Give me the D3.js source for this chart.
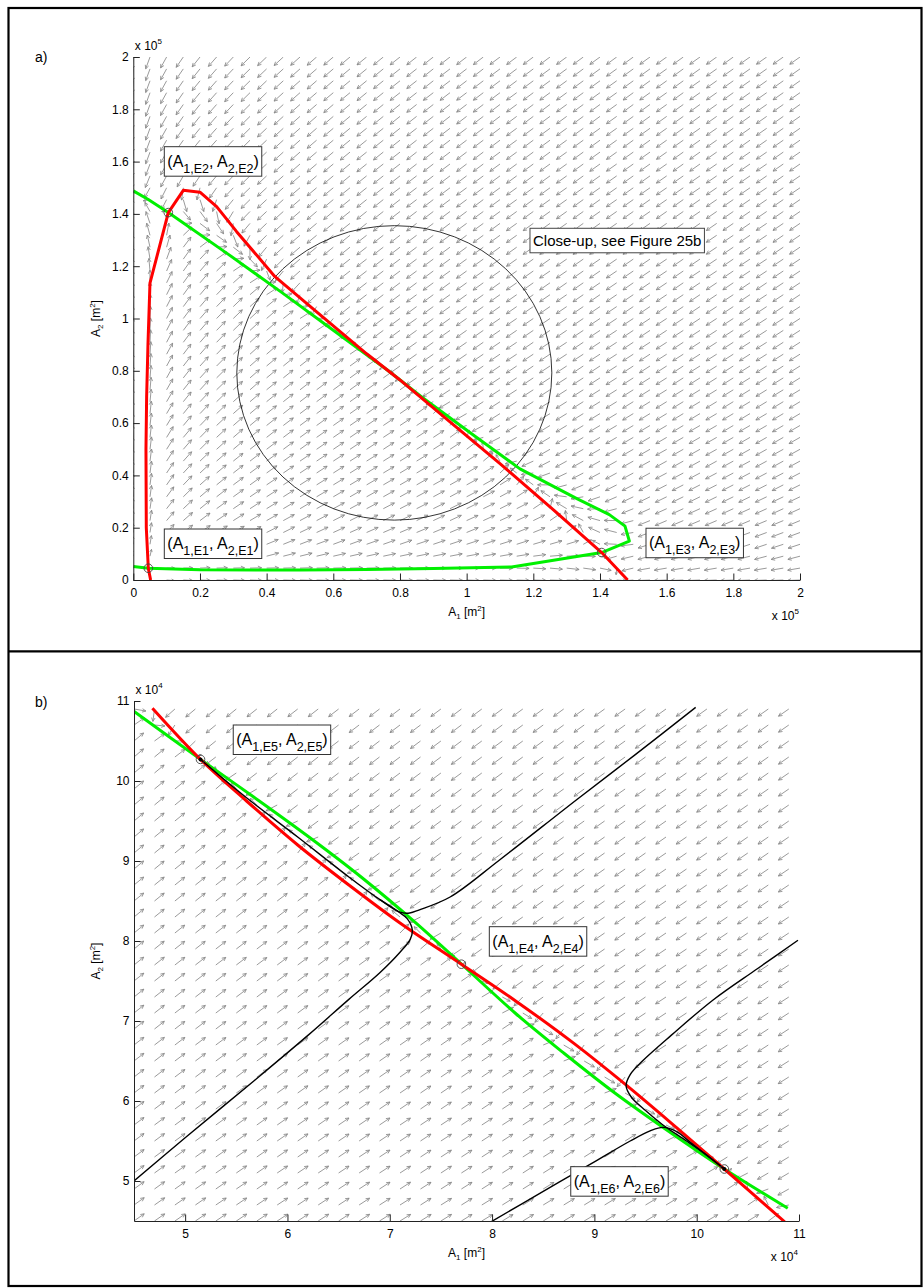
<!DOCTYPE html>
<html><head><meta charset="utf-8">
<script src="https://cdn.jsdelivr.net/npm/d3@7"></script>
<style>
body{margin:0;background:#fff}
svg{display:block}
text{font-family:"Liberation Sans",Arial,Helvetica,sans-serif;fill:#000}
</style>
</head><body>
<svg id="c" width="924" height="1288"></svg>
<script>
// ---------------- DATA ----------------
// Panel a (units: x 10^5 m^2)
const ticksA = [0,0.2,0.4,0.6,0.8,1,1.2,1.4,1.6,1.8,2];
const tickLabelsA = ["0","0.2","0.4","0.6","0.8","1","1.2","1.4","1.6","1.8","2"];
const redA = [[0.052,0],[0.045,0.045],[0.039,0.2],[0.038,0.5],[0.04,0.7],[0.044,0.9],[0.05,1.135],
  [0.105,1.405],[0.15,1.49],[0.2,1.483],[0.25,1.428],[0.31,1.332],[0.425,1.16],[0.55,1.025],
  [0.7,0.865],[0.8,0.765],[0.95,0.605],[1.1,0.445],[1.25,0.28],[1.405,0.105],[1.483,0]];
const greenA = [[0,1.488],[0.045,1.455],[0.105,1.405],[0.28,1.25],[0.445,1.1],[0.605,0.95],
  [0.765,0.8],[0.865,0.7],[1.025,0.55],[1.16,0.425],[1.332,0.31],[1.428,0.25],[1.475,0.206],
  [1.488,0.149],[1.405,0.105],[1.135,0.05],[0.9,0.044],[0.7,0.04],[0.5,0.038],[0.2,0.039],
  [0.045,0.045],[0,0.052]];
const eqA = [[0.045,0.045],[0.105,1.405],[1.405,0.105]];
const zoomCircleA = [0.783,0.792,0.4725,0.563]; // centre x, centre y, radius x, radius y
const labelsA = [
  {pos:[0.093,1.657], sub1:"1,E2", sub2:"2,E2"},
  {pos:[0.093,0.195], sub1:"1,E1", sub2:"2,E1"},
  {pos:[1.538,0.198], sub1:"1,E3", sub2:"2,E3"}
];
const noteA = {pos:[1.19,1.345], text:"Close-up, see Figure 25b"};
const gridAx = d3.range(41).map(i=>i*0.05);
const gridAy = d3.range(45).map(i=>i*2/44);

// Panel b (units: x 10^4 m^2)
const ticksB = [5,6,7,8,9,10,11];
const tickLabelsB = ["5","6","7","8","9","10","11"];
const redB = [[4.68,10.91],[5.15,10.27],[5.6,9.75],[6.1,9.2],[6.6,8.7],[7.1,8.225],[7.7,7.71],
  [8.22,7.26],[8.8,6.72],[9.3,6.21],[9.8,5.67],[10.27,5.15],[10.86,4.49]];
const greenB = [[4.49,10.88],[5.15,10.27],[5.67,9.8],[6.21,9.3],[6.72,8.8],[7.26,8.22],[7.71,7.7],
  [8.225,7.1],[8.7,6.6],[9.2,6.1],[9.75,5.6],[10.27,5.15],[10.89,4.66]];
const trajB1 = [[9.99,10.92],[9.4,10.33],[8.82,9.76],[8.07,9.01],[7.59,8.55],[7.29,8.39],[7.195,8.35],
  [7.1,8.36],[6.9,8.52],[6.6,8.8],[6.1,9.3],[5.6,9.79],[5.15,10.27]];
const trajB2 = [[4.5,5.0],[5.0,5.54],[5.68,6.26],[6.2,6.82],[6.6,7.27],[6.9,7.6],[7.1,7.86],[7.2,8.02],
  [7.22,8.14],[7.17,8.28],[7.08,8.37],[6.9,8.52]];
const trajB3 = [[10.99,8.01],[10.6,7.66],[10.157,7.26],[9.75,6.82],[9.47,6.5],[9.35,6.33],[9.31,6.19],
  [9.36,6.05],[9.5,5.88],[9.67,5.7],[9.9,5.5],[10.1,5.32],[10.27,5.15]];
const trajB4 = [[7.99,4.49],[8.5,4.87],[9.0,5.24],[9.35,5.5],[9.55,5.63],[9.67,5.67],[9.8,5.62],
  [9.95,5.47],[10.1,5.32],[10.27,5.15]];
const eqB = [[5.15,10.27],[7.7,7.71],[10.27,5.15]];
const eqBfilled = [[5.15,10.27],[10.27,5.15]];
const labelsB = [
  {pos:[5.47,10.7], sub1:"1,E5", sub2:"2,E5"},
  {pos:[7.973,8.179], sub1:"1,E4", sub2:"2,E4"},
  {pos:[8.769,5.179], sub1:"1,E6", sub2:"2,E6"}
];
const gridBx = d3.range(33).map(i=>4.5+i*0.2);
const gridBy = d3.range(33).map(i=>4.5+i*0.2);

// ---------------- HELPERS ----------------
const svg = d3.select('#c');
function distPoly(px,py,pts){
  let best=Infinity;
  for(let i=0;i<pts.length-1;i++){
    const [ax,ay]=pts[i],[bx,by]=pts[i+1];
    const vx=bx-ax,vy=by-ay,l2=vx*vx+vy*vy;
    let t=l2?((px-ax)*vx+(py-ay)*vy)/l2:0; t=Math.max(0,Math.min(1,t));
    const d=Math.hypot(px-ax-t*vx,py-ay-t*vy); if(d<best)best=d;
  }
  return best;
}
function inPoly(x,y,poly){
  let c=false;
  for(let i=0,j=poly.length-1;i<poly.length;j=i++){
    const [xi,yi]=poly[i],[xj,yj]=poly[j];
    if(((yi>y)!==(yj>y)) && (x < (xj-xi)*(y-yi)/(yj-yi)+xi)) c=!c;
  }
  return c;
}
const growth = z => (z+0.01)/(z+0.21);

function drawPanel(P){
  const x=d3.scaleLinear().domain(P.xDom).range(P.xR);
  const y=d3.scaleLinear().domain(P.yDom).range(P.yR);
  const g=svg.append('g');
  const cid='clip'+P.id;
  svg.append('clipPath').attr('id',cid).append('rect')
    .attr('x',P.xR[0]).attr('y',P.yR[1]).attr('width',P.xR[1]-P.xR[0]).attr('height',P.yR[0]-P.yR[1]);
  const plot=g.append('g').attr('clip-path',`url(#${cid})`);

  // quiver field (direction from the side of each nullcline)
  const redPx=P.red.map(d=>[x(d[0]),y(d[1])]);
  const greenPx=P.green.map(d=>[x(d[0]),y(d[1])]);
  const sx=x(1)-x(0), sy=(y(0)-y(1))*0.9;
  let dp='';
  for(const gx of P.gridX) for(const gy of P.gridY){
    const px=x(gx),py=y(gy);
    const d1=distPoly(px,py,redPx), d2=distPoly(px,py,greenPx);
    const s1=inPoly(gx,gy+1e-6,P.redPoly)?1:-1;
    const s2=inPoly(gx+1e-6,gy,P.greenPoly)?1:-1;
    const u=s1*Math.tanh(d1/P.S)*growth(gx*P.unit);
    const v=s2*Math.tanh(d2/P.S)*growth(gy*P.unit);
    let dx=u*sx, dy=-v*sy; const m=Math.hypot(dx,dy);
    if(m<1e-9) continue;
    const L=12.5*Math.min(1,0.35+0.9*Math.hypot(u,v));
    dx=dx/m*L; dy=dy/m*L;
    const ex=px+dx, ey=py+dy, a=Math.atan2(dy,dx), hl=Math.min(4,L*0.4), ha=0.45;
    dp+=`M${px.toFixed(1)},${py.toFixed(1)}L${ex.toFixed(1)},${ey.toFixed(1)}`+
        `M${(ex-hl*Math.cos(a-ha)).toFixed(1)},${(ey-hl*Math.sin(a-ha)).toFixed(1)}L${ex.toFixed(1)},${ey.toFixed(1)}`+
        `L${(ex-hl*Math.cos(a+ha)).toFixed(1)},${(ey-hl*Math.sin(a+ha)).toFixed(1)}`;
  }
  plot.append('path').attr('d',dp).attr('fill','none').attr('stroke','#888').attr('stroke-width',0.85);

  if(P.circle){
    const [cx,cy,rx,ry]=P.circle;
    plot.append('ellipse').attr('cx',x(cx)).attr('cy',y(cy))
      .attr('rx',x(cx+rx)-x(cx)).attr('ry',y(cy)-y(cy+ry))
      .attr('fill','none').attr('stroke','#000').attr('stroke-width',0.8);
  }
  const line=d3.line().x(d=>x(d[0])).y(d=>y(d[1])).curve(P.smooth?d3.curveCatmullRom.alpha(0.5):d3.curveLinear);
  plot.append('path').attr('d',line(P.green)).attr('fill','none').attr('stroke','#00f000').attr('stroke-width',3).attr('stroke-linejoin','round');
  plot.append('path').attr('d',line(P.red)).attr('fill','none').attr('stroke','#ff0000').attr('stroke-width',3).attr('stroke-linejoin','round');
  const tl=d3.line().x(d=>x(d[0])).y(d=>y(d[1])).curve(d3.curveCatmullRom.alpha(0.5));
  (P.traj||[]).forEach(t=>plot.append('path').attr('d',tl(t)).attr('fill','none').attr('stroke','#000').attr('stroke-width',1.4));
  (P.eqFilled||[]).forEach(e=>plot.append('circle').attr('cx',x(e[0])).attr('cy',y(e[1])).attr('r',2).attr('fill','#000'));
  P.eq.forEach(e=>plot.append('circle').attr('cx',x(e[0])).attr('cy',y(e[1])).attr('r',4.3)
    .attr('fill','none').attr('stroke','#444').attr('stroke-width',0.9));

  // labels
  P.labels.forEach(L=>{
    const bx=x(L.pos[0]), by=y(L.pos[1]);
    const lg=g.append('g');
    const r=lg.append('rect').attr('fill','#fff').attr('stroke','#333').attr('stroke-width',1);
    const t=lg.append('text').attr('x',bx+3).attr('y',by+20).style('font-size','16px');
    t.append('tspan').text('(A');
    t.append('tspan').attr('dy',6).style('font-size','12.5px').text(L.sub1);
    t.append('tspan').attr('dy',-6).text(', A');
    t.append('tspan').attr('dy',6).style('font-size','12.5px').text(L.sub2);
    t.append('tspan').attr('dy',-6).text(')');
    const w=t.node().getComputedTextLength();
    r.attr('x',bx).attr('y',by).attr('width',w+6).attr('height',29.5);
  });
  if(P.note){
    const bx=x(P.note.pos[0]), by=y(P.note.pos[1]);
    const r=g.append('rect').attr('fill','#fff').attr('stroke','#444').attr('stroke-width',1);
    const t=g.append('text').attr('x',bx+3).attr('y',by+17.5).style('font-size','15px').text(P.note.text);
    const w=t.node().getComputedTextLength();
    r.attr('x',bx).attr('y',by).attr('width',w+6).attr('height',24.5);
  }

  // axes
  const ax=d3.axisBottom(x).tickValues(P.ticks).tickFormat((d,i)=>P.tickLabels[i])
    .tickSizeInner(-6.5).tickSizeOuter(0).tickPadding(8.5);
  const ay=d3.axisLeft(y).tickValues(P.ticks).tickFormat((d,i)=>P.tickLabels[i])
    .tickSizeInner(-6.5).tickSizeOuter(0).tickPadding(4.5);
  const gxA=g.append('g').attr('transform',`translate(0,${P.yR[0]})`).call(ax);
  const gyA=g.append('g').attr('transform',`translate(${P.xR[0]},0)`).call(ay);
  [gxA,gyA].forEach(a=>{
    a.attr('font-family',null).attr('font-size',null);
    a.selectAll('text').style('font-size','12px').attr('fill','#000');
    a.selectAll('path,line').attr('stroke','#222');
  });

  // exponent labels
  const e1=g.append('text').attr('x',P.xR[0]+1.5).attr('y',P.yR[1]-7.5).style('font-size','12px').text('x 10');
  e1.append('tspan').attr('dy',-6).style('font-size','8px').text(P.exp);
  const e2=g.append('text').attr('x',P.xR[1]-1).attr('y',P.yR[0]+40).attr('text-anchor','end').style('font-size','12px').text('x 10');
  e2.append('tspan').attr('dy',-6).style('font-size','8px').text(P.exp);

  // axis titles
  const xt=g.append('text').attr('x',(P.xR[0]+P.xR[1])/2).attr('y',P.yR[0]+36).attr('text-anchor','middle').style('font-size','12px');
  xt.append('tspan').text('A');
  xt.append('tspan').attr('dy',3).style('font-size','8px').text('1');
  xt.append('tspan').attr('dy',-3).text(' [m');
  xt.append('tspan').attr('dy',-5).style('font-size','8px').text('2');
  xt.append('tspan').attr('dy',5).text(']');
  const yt=g.append('text').attr('transform',`translate(100,${(P.yR[0]+P.yR[1])/2}) rotate(-90)`).attr('text-anchor','middle').style('font-size','12px');
  yt.append('tspan').text('A');
  yt.append('tspan').attr('dy',3).style('font-size','8px').text('2');
  yt.append('tspan').attr('dy',-3).text(' [m');
  yt.append('tspan').attr('dy',-5).style('font-size','8px').text('2');
  yt.append('tspan').attr('dy',5).text(']');

  g.append('text').attr('x',35).attr('y',P.tagY).style('font-size','14px').text(P.id+')');
}

// frame
svg.append('rect').attr('x',8.5).attr('y',8).attr('width',913).attr('height',1278)
  .attr('fill','none').attr('stroke','#000').attr('stroke-width',2.2);
svg.append('line').attr('x1',8.5).attr('x2',921.5).attr('y1',651.3).attr('y2',651.3)
  .attr('stroke','#000').attr('stroke-width',2.2);

drawPanel({id:'a', xDom:[0,2], yDom:[0,2], xR:[133.3,800], yR:[580,57],
  ticks:ticksA, tickLabels:tickLabelsA, exp:'5', unit:1, S:14,
  red:redA, green:greenA, redPoly:redA, greenPoly:greenA,
  gridX:gridAx, gridY:gridAy, eq:eqA, circle:zoomCircleA,
  labels:labelsA, note:noteA, smooth:false, tagY:62});

drawPanel({id:'b', xDom:[4.5,11], yDom:[4.5,11], xR:[134,799], yR:[1221,701],
  ticks:ticksB, tickLabels:tickLabelsB, exp:'4', unit:0.1, S:10,
  red:redB, green:greenB,
  redPoly:redB.concat([[10.86,-100],[-100,-100],[-100,10.91]]),
  greenPoly:greenB.concat([[10.89,-100],[-100,-100],[-100,10.88]]),
  gridX:gridBx, gridY:gridBy, eq:eqB, eqFilled:eqBfilled,
  traj:[trajB1,trajB2,trajB3,trajB4], labels:labelsB, smooth:true, tagY:707});
</script>
</body></html>
